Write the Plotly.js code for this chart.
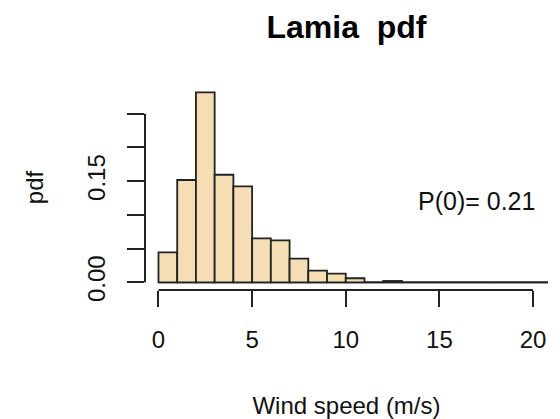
<!DOCTYPE html>
<html>
<head>
<meta charset="utf-8">
<script src="https://cdn.plot.ly/plotly-3.0.1.min.js"></script>
<style>html,body{margin:0;padding:0;background:#fff;}#chart{width:560px;height:419px;}</style>
</head>
<body>
<div id="chart"></div>
<script>
// Histogram breaks (m/s) and density per bin
var breaks = [0,1,2,3,4,5,6,7,8,9,10,11,12,13,14,15,16,17,18,19,20,21];
var density = [0.0445,0.1518,0.2819,0.1596,0.1424,0.0653,0.0623,0.0350,0.0172,0.0130,0.0060,0,0.0020,0,0,0,0,0,0,0,0];
var xTicks = [0,5,10,15,20];
var yTicks = [0,0.05,0.10,0.15,0.20,0.25];
var yTickText = ['0.00','','','0.15','',''];
var titleText = 'Lamia  pdf';
var xTitle = 'Wind speed (m/s)';
var yTitle = 'pdf';
var p0Label = 'P(0)= 0.21';
var p0Pos = {x: 17, y: 0.12};

var mids = [], widths = [];
for (var i = 0; i < density.length; i++) {
  mids.push((breaks[i] + breaks[i+1]) / 2);
  widths.push(breaks[i+1] - breaks[i]);
}

var FONT = '"Liberation Sans", Arial, sans-serif';
var INK = '#222222';

var trace = {
  type: 'bar',
  x: mids,
  y: density,
  width: widths,
  marker: {color: '#F5DEB3', line: {color: INK, width: 1.8}},
  hoverinfo: 'skip'
};

var layout = {
  width: 560, height: 419, autosize: false,
  margin: {l: 145, r: 12, t: 85, b: 129, pad: 0},
  paper_bgcolor: '#fff', plot_bgcolor: '#fff',
  showlegend: false,
  font: {family: FONT, color: '#111'},
  title: {
    text: '<b>' + titleText + '</b>',
    font: {family: FONT, size: 32, color: '#000'},
    x: 0.5, xref: 'paper', xanchor: 'center',
    y: 1 - 27/419, yref: 'container', yanchor: 'middle'
  },
  xaxis: {
    range: [-0.72, 20.8],
    tickvals: xTicks,
    ticktext: xTicks.map(String),
    ticks: 'outside', ticklen: 16, tickwidth: 2, tickcolor: INK,
    ticklabelstandoff: 12,
    tickfont: {family: FONT, size: 24, color: '#111'},
    showline: false, showgrid: false, zeroline: false,
    title: {text: xTitle, font: {family: FONT, size: 24, color: '#111'}, standoff: 47},
    fixedrange: true
  },
  yaxis: {
    range: [-0.0114, 0.2927],
    tickvals: yTicks,
    ticktext: yTickText,
    tickangle: -90,
    ticks: 'outside', ticklen: 17, tickwidth: 2, tickcolor: INK,
    ticklabelstandoff: 12,
    tickfont: {family: FONT, size: 24, color: '#111'},
    showline: false, showgrid: false, zeroline: false,
    title: {text: yTitle, font: {family: FONT, size: 24, color: '#111'}, standoff: 33},
    fixedrange: true
  },
  shapes: [
    // x axis line spanning the first to last tick
    {type: 'line', xref: 'x', yref: 'paper', x0: xTicks[0], x1: xTicks[xTicks.length-1], y0: 0, y1: 0,
     line: {color: INK, width: 2}},
    // y axis line spanning the first to last tick
    {type: 'line', xref: 'paper', yref: 'y', x0: 0, x1: 0, y0: yTicks[0], y1: yTicks[yTicks.length-1],
     line: {color: INK, width: 2}},
    // histogram baseline (zero-height bins)
    {type: 'line', xref: 'x', yref: 'y', x0: breaks[0], x1: breaks[breaks.length-1], y0: 0, y1: 0,
     line: {color: INK, width: 1.8}, layer: 'below'}
  ],
  annotations: [
    {text: p0Label, x: p0Pos.x, y: p0Pos.y, xref: 'x', yref: 'y', showarrow: false,
     xanchor: 'center', yanchor: 'middle',
     font: {family: FONT, size: 25, color: '#111'}}
  ]
};

Plotly.newPlot('chart', [trace], layout, {displayModeBar: false, staticPlot: true});
</script>
</body>
</html>
